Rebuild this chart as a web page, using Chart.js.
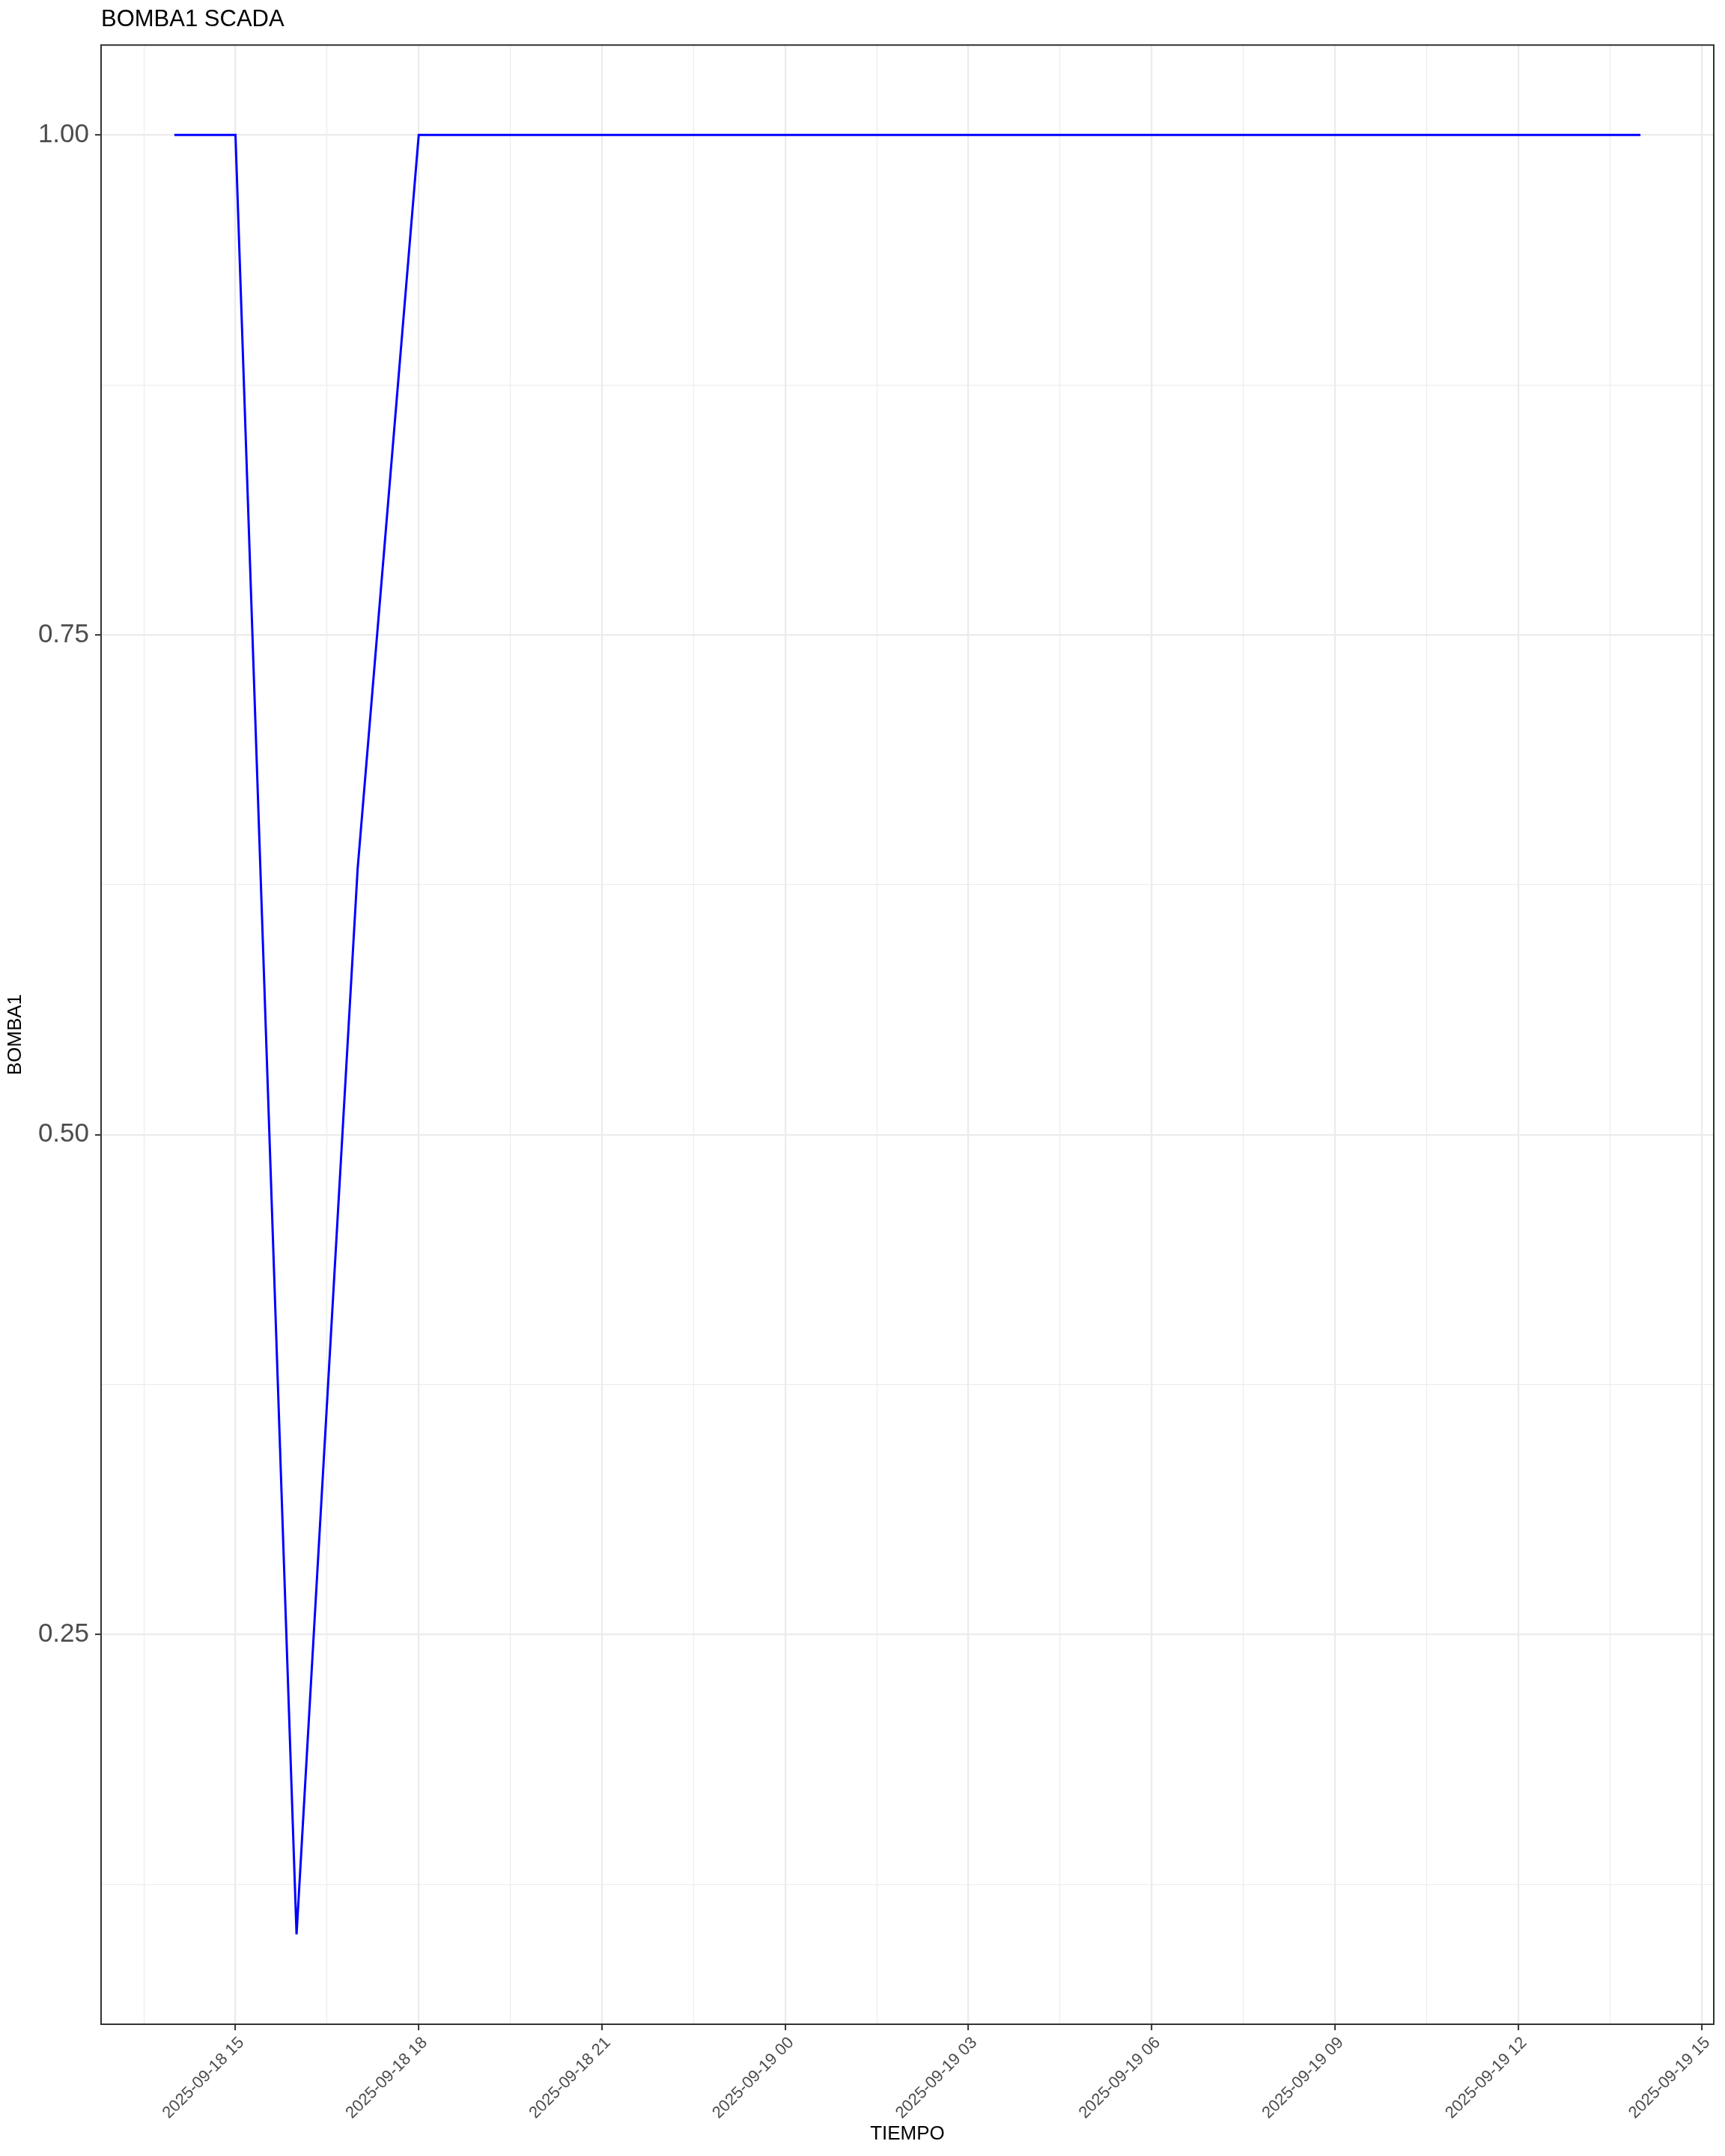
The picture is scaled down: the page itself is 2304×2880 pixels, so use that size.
<!DOCTYPE html>
<html>
<head>
<meta charset="utf-8">
<title>BOMBA1 SCADA</title>
<script src="https://cdn.jsdelivr.net/npm/chart.js@4.4.1/dist/chart.umd.min.js"></script>
<style>
  html, body { margin: 0; padding: 0; background: #ffffff; }
  #wrap { width: 2304px; height: 2880px; }
</style>
</head>
<body>
<div id="wrap"><canvas id="scadaChart" width="2304" height="2880"></canvas></div>
<script>
const tiempo = [
    "2025-09-18 14:00", "2025-09-18 15:00", "2025-09-18 16:00", "2025-09-18 17:00",
    "2025-09-18 18:00", "2025-09-18 19:00", "2025-09-18 20:00", "2025-09-18 21:00",
    "2025-09-18 22:00", "2025-09-18 23:00", "2025-09-19 00:00", "2025-09-19 01:00",
    "2025-09-19 02:00", "2025-09-19 03:00", "2025-09-19 04:00", "2025-09-19 05:00",
    "2025-09-19 06:00", "2025-09-19 07:00", "2025-09-19 08:00", "2025-09-19 09:00",
    "2025-09-19 10:00", "2025-09-19 11:00", "2025-09-19 12:00", "2025-09-19 13:00",
    "2025-09-19 14:00"
];
const bomba1 = [
    1, 1, 0.1, 0.633,
    1, 1, 1, 1,
    1, 1, 1, 1,
    1, 1, 1, 1,
    1, 1, 1, 1,
    1, 1, 1, 1,
    1
];
const xTickLabels = [
    "2025-09-18 15", "2025-09-18 18", "2025-09-18 21", "2025-09-19 00",
    "2025-09-19 03", "2025-09-19 06", "2025-09-19 09", "2025-09-19 12",
    "2025-09-19 15"
];
const yTickLabels = ["0.25", "0.50", "0.75", "1.00"];

const FONT = "'Liberation Sans', Arial, Helvetica, sans-serif";
const GRID = "#ebebeb";
const INK = "#333333";
const TEXT = "#4d4d4d";

// hours since 2025-09-18 00:00
function toHours(s) {
    const [d, t] = s.split(" ");
    const day = +d.slice(8, 10) - 18;
    const h = +t.slice(0, 2);
    const m = t.length > 3 ? +t.slice(3, 5) : 0;
    return day * 24 + h + m / 60;
}

const points = tiempo.map((t, i) => ({ x: toHours(t), y: bomba1[i] }));

// ggplot style 5% expansion
const xs = points.map(p => p.x), ys = points.map(p => p.y);
const xPad = (Math.max(...xs) - Math.min(...xs)) * 0.05;
const yPad = (Math.max(...ys) - Math.min(...ys)) * 0.05;
const xMin = Math.min(...xs) - xPad, xMax = Math.max(...xs) + xPad;
const yMin = Math.min(...ys) - yPad, yMax = Math.max(...ys) + yPad;

const xMajor = xTickLabels.map(toHours);
const yMajor = yTickLabels.map(Number);

function withMinor(major, lo, hi) {
    const step = major[1] - major[0];
    const all = major.map(v => ({ value: v, major: true }));
    [major[0] - step / 2, ...major.map(v => v + step / 2)].forEach(v => {
        if (v > lo && v < hi) all.push({ value: v, major: false });
    });
    return all.sort((a, b) => a.value - b.value);
}

function isMajor(list, v) {
    return list.some(m => Math.abs(m - v) < 1e-6);
}

const panelBorder = {
    id: "panelBorder",
    afterDraw(chart) {
        const { ctx, chartArea: a } = chart;
        ctx.save();
        ctx.strokeStyle = INK;
        ctx.lineWidth = 2;
        ctx.strokeRect(a.left, a.top, a.right - a.left, a.bottom - a.top);
        ctx.restore();
    }
};

new Chart(document.getElementById("scadaChart"), {
    type: "line",
    data: {
        datasets: [{
            label: "BOMBA1",
            data: points,
            borderColor: "#0000ff",
            borderWidth: 3,
            pointRadius: 0,
            tension: 0,
            fill: false
        }]
    },
    options: {
        responsive: false,
        animation: false,
        devicePixelRatio: 1,
        layout: { padding: { left: 0, right: 15, top: 0, bottom: 0 } },
        plugins: {
            legend: { display: false },
            tooltip: { enabled: false },
            title: {
                display: true,
                text: "BOMBA1 SCADA",
                align: "start",
                fullSize: false,
                color: "#000000",
                font: { family: FONT, size: 31, weight: "normal" },
                padding: { top: 8, bottom: 15 }
            }
        },
        scales: {
            x: {
                type: "linear",
                min: xMin,
                max: xMax,
                afterBuildTicks: s => { s.ticks = withMinor(xMajor, xMin, xMax); },
                afterFit: s => { s.height = 176; },
                border: { display: false },
                grid: {
                    color: GRID,
                    lineWidth: c => (c.tick && isMajor(xMajor, c.tick.value)) ? 2.2 : 1.1,
                    tickColor: c => (c.tick && isMajor(xMajor, c.tick.value)) ? INK : "rgba(0,0,0,0)",
                    tickWidth: 2,
                    tickLength: 8
                },
                ticks: {
                    autoSkip: false,
                    minRotation: 45,
                    maxRotation: 45,
                    padding: 4,
                    labelOffset: 8,
                    color: TEXT,
                    font: { family: FONT, size: 22 },
                    callback: v => {
                        const i = xMajor.findIndex(m => Math.abs(m - v) < 1e-6);
                        return i >= 0 ? xTickLabels[i] : "";
                    }
                },
                title: {
                    display: true,
                    text: "TIEMPO",
                    color: "#000000",
                    font: { family: FONT, size: 26 },
                    padding: { top: 0, bottom: 14 }
                }
            },
            y: {
                type: "linear",
                min: yMin,
                max: yMax,
                afterBuildTicks: s => { s.ticks = withMinor(yMajor, yMin, yMax); },
                afterFit: s => { s.width = 135; },
                border: { display: false },
                grid: {
                    color: GRID,
                    lineWidth: c => (c.tick && isMajor(yMajor, c.tick.value)) ? 2.2 : 1.1,
                    tickColor: c => (c.tick && isMajor(yMajor, c.tick.value)) ? INK : "rgba(0,0,0,0)",
                    tickWidth: 2,
                    tickLength: 8
                },
                ticks: {
                    padding: 8,
                    color: TEXT,
                    font: { family: FONT, size: 35 },
                    callback: v => {
                        const i = yMajor.findIndex(m => Math.abs(m - v) < 1e-6);
                        return i >= 0 ? yTickLabels[i] : "";
                    }
                },
                title: {
                    display: true,
                    text: "BOMBA1",
                    color: "#000000",
                    font: { family: FONT, size: 26 },
                    padding: { top: 5, bottom: 0 }
                }
            }
        }
    },
    plugins: [panelBorder]
});
</script>
</body>
</html>
